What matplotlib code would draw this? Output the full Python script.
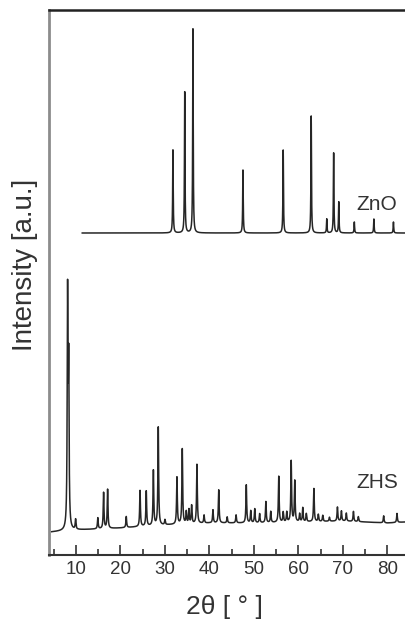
import numpy as np
import matplotlib
matplotlib.use("Agg")
import matplotlib.pyplot as plt
from matplotlib.ticker import MultipleLocator

plt.rcParams.update({
    "font.family": ["Liberation Sans", "DejaVu Sans"],
    "figure.facecolor": "white", "axes.facecolor": "white",
})

# ZnO reference pattern (offset trace): peak position 2theta, height
ZNO_OFFSET = 322
ZNO_POS = [31.8, 34.45, 36.3, 47.55, 56.6, 62.9, 66.4, 67.95, 69.1, 72.6, 77.0, 81.4]
ZNO_H = [83, 141, 204, 63, 83, 117, 14, 80, 31, 11, 14, 11]

# ZHS pattern: background anchors and peaks
ZHS_BG_X = [4.5, 10, 20, 30, 40, 50, 60, 70, 80, 84]
ZHS_BG_Y = [23, 25, 27, 30, 32, 32, 33, 34, 32, 33]
ZHS_POS = [8.1, 8.35, 9.9, 14.9, 16.2, 17.1, 21.3, 24.4, 25.8, 27.4, 28.5, 30.0,
           32.7, 33.9, 34.8, 35.4, 36.0, 37.2, 38.8, 40.8, 42.1, 44.0, 46.0,
           48.3, 49.3, 50.2, 51.3, 52.7, 53.8, 55.6, 56.6, 57.4, 58.4, 59.2,
           60.3, 61.0, 61.8, 63.5, 64.5, 65.5, 67.0, 68.8, 69.7, 70.8, 72.4,
           73.5, 79.2, 82.2]
ZHS_H = [230, 155, 10, 11, 36, 39, 11, 36, 35, 55, 98, 5,
         47, 75, 12, 14, 18, 59, 8, 13, 33, 6, 8,
         38, 12, 14, 9, 21, 11, 46, 10, 10, 61, 41,
         8, 14, 8, 33, 7, 6, 4, 14, 10, 8, 10,
         5, 7, 9]


def pattern(x, pos, h, hw):
    y = np.zeros_like(x)
    for p, a in zip(pos, h):
        y += a / (1 + ((x - p) / hw) ** 2)
    return y


x_zno = np.arange(11.4, 84.01, 0.01)
y_zno = ZNO_OFFSET + pattern(x_zno, ZNO_POS, ZNO_H, 0.07)

x_zhs = np.arange(4.5, 84.01, 0.01)
y_zhs = np.interp(x_zhs, ZHS_BG_X, ZHS_BG_Y) + pattern(x_zhs, ZHS_POS, ZHS_H, 0.1)

fig = plt.figure(figsize=(4.05, 6.25), dpi=100)
ax = fig.add_axes([49 / 405, 70 / 625, 1 - 49 / 405, 545 / 625])
ax.plot(x_zno, y_zno, color="#262626", lw=1.1)
ax.plot(x_zhs, y_zhs, color="#262626", lw=1.1)

ax.set_xlim(3.92, 84.0)
ax.set_ylim(0, 545)
ax.xaxis.set_major_locator(MultipleLocator(10))
ax.xaxis.set_minor_locator(MultipleLocator(5))
ax.set_yticks([])
ax.tick_params(axis="x", which="both", direction="in", top=False, width=1.2,
               colors="#333333", labelsize=13.5, pad=4)
ax.tick_params(axis="x", which="major", length=7)
ax.tick_params(axis="x", which="minor", length=4)

ax.spines["right"].set_visible(False)
ax.spines["top"].set_color("#222222")
ax.spines["top"].set_linewidth(1.8)
ax.spines["left"].set_color("#8c8c8c")
ax.spines["left"].set_linewidth(2.0)
ax.spines["bottom"].set_color("#333333")
ax.spines["bottom"].set_linewidth(1.5)

fig.text(224 / 405, 1 - 607 / 625, "2θ [ ° ]", fontsize=19, color="#333333",
         ha="center", va="center")
fig.text(25 / 405, 1 - 265 / 625, "Intensity [a.u.]", fontsize=20, color="#333333",
         rotation=90, ha="center", va="center")

ax.text(77.7, 350, "ZnO", fontsize=15, color="#333333", ha="center", va="center")
ax.text(77.7, 73, "ZHS", fontsize=15, color="#333333", ha="center", va="center")

fig.savefig("out.png", dpi=100, facecolor="white")
